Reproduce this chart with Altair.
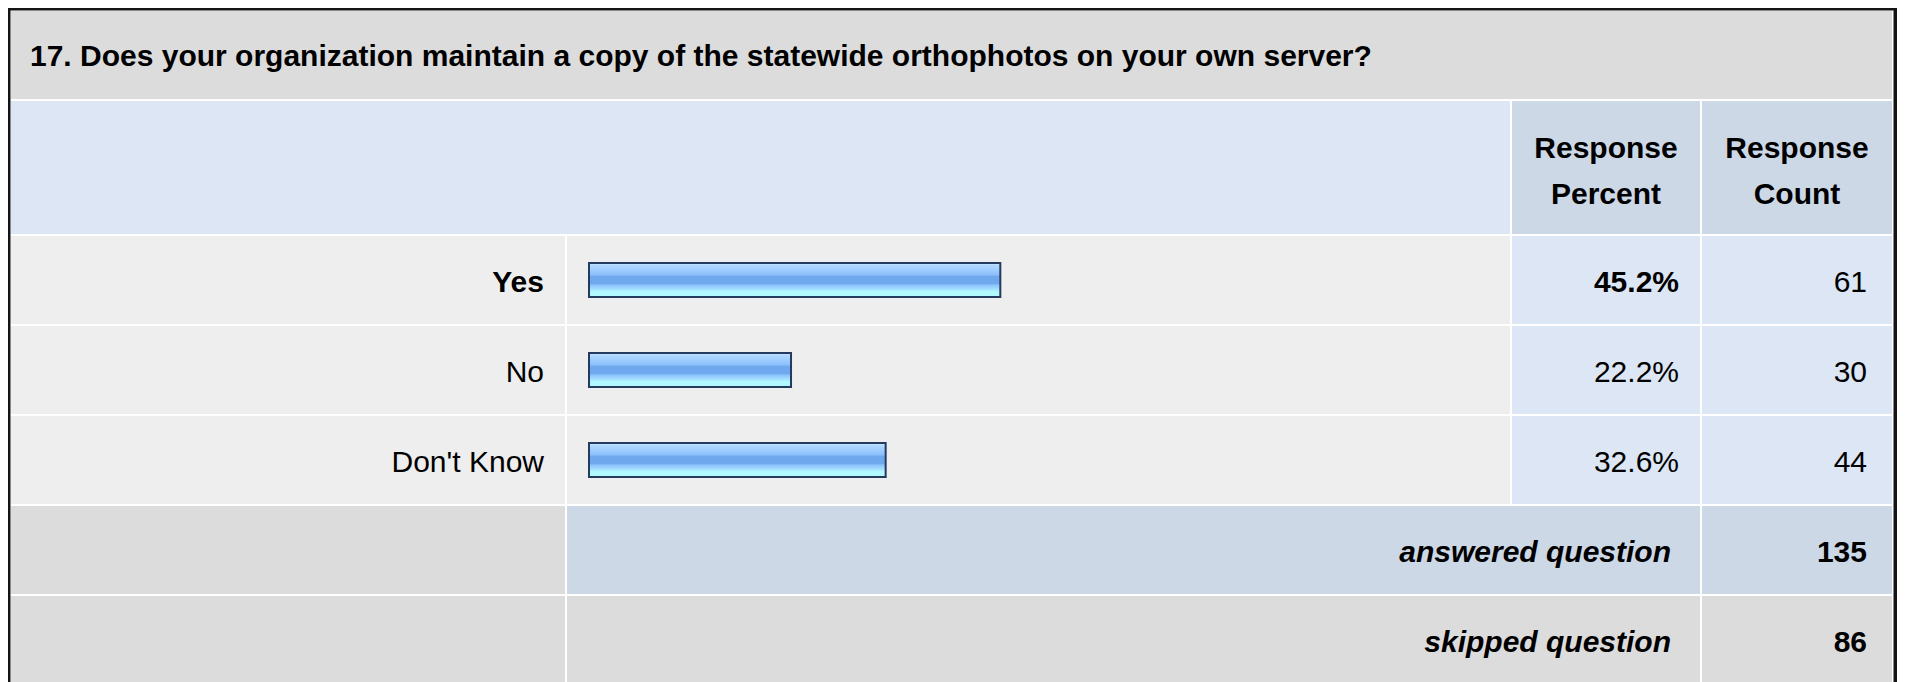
import altair as alt
import pandas as pd

# ---------------- data ----------------
question = "17. Does your organization maintain a copy of the statewide orthophotos on your own server?"
answers = ["Yes", "No", "Don't Know"]
percents = [45.2, 22.2, 32.6]
counts = [61, 30, 44]
header_percent = ["Response", "Percent"]
header_count = ["Response", "Count"]
summary_labels = ["answered question", "skipped question"]
summary_values = [135, 86]

# ---------------- layout (page pixels; page margin is 8px) ----------------
M = 8
W, H = 1907 - 2 * M, 682 - M
FONT = "Liberation Sans"
FS = 30

def p(v):
    return v - M

COL_LABEL = (11, 565)
COL_BAR = (567, 1510)
COL_PCT = (1512, 1700)
COL_CNT = (1702, 1892)
ROW_TITLE = (11, 99)
ROW_HEAD = (101, 234)
ROWS = [(236, 324), (326, 414), (416, 504)]
ROW_ANS = (506, 594)
ROW_SKIP = (596, 700)

GRAY = "#dcdcdc"
LIGHT = "#eeeeee"
BLUE = "#dce6f4"
BLUEGRAY = "#ccd8e6"

cells = []
def cell(cx, ry, fill):
    cells.append({"x": p(cx[0]), "x2": p(cx[1]), "y": p(ry[0]), "y2": p(ry[1]), "fill": fill})

cell((11, 1892), ROW_TITLE, GRAY)
cell((11, 1510), ROW_HEAD, BLUE)
cell(COL_PCT, ROW_HEAD, BLUEGRAY)
cell(COL_CNT, ROW_HEAD, BLUEGRAY)
for r in ROWS:
    cell(COL_LABEL, r, LIGHT)
    cell(COL_BAR, r, LIGHT)
    cell(COL_PCT, r, BLUE)
    cell(COL_CNT, r, BLUE)
cell(COL_LABEL, ROW_ANS, GRAY)
cell((567, 1700), ROW_ANS, BLUEGRAY)
cell(COL_CNT, ROW_ANS, BLUEGRAY)
cell(COL_LABEL, ROW_SKIP, GRAY)
cell((567, 1700), ROW_SKIP, GRAY)
cell(COL_CNT, ROW_SKIP, GRAY)
# outer border
cell((8, 10.5), (8, 700), "#141414")
cell((8, 1897), (8, 10.5), "#141414")
cell((1893.5, 1897), (8, 700), "#141414")
cells_df = pd.DataFrame(cells)

bg = alt.Chart(cells_df).mark_rect().encode(
    x=alt.X("x:Q", scale=None, axis=None),
    x2="x2:Q",
    y=alt.Y("y:Q", scale=None, axis=None),
    y2="y2:Q",
    color=alt.Color("fill:N", scale=None, legend=None),
)

df = pd.DataFrame({"answer": answers, "pct": percents, "count": counts})

row_centers = [(a + b) / 2 for a, b in ROWS]
yscale = alt.Scale(type="point", domain=answers,
                   range=[p(row_centers[0]), p(row_centers[-1])], padding=0)
xscale = alt.Scale(domain=[0, 100], range=[p(589), p(589) + 910])

gradient = {
    "gradient": "linear", "x1": 0, "y1": 0, "x2": 0, "y2": 1,
    "stops": [
        {"offset": 0.0, "color": "#d4ebff"},
        {"offset": 0.07, "color": "#b0d8ff"},
        {"offset": 0.2, "color": "#9fcdff"},
        {"offset": 0.34, "color": "#8cc0fa"},
        {"offset": 0.40, "color": "#70a8ee"},
        {"offset": 0.60, "color": "#70a8ee"},
        {"offset": 0.66, "color": "#8ec5fb"},
        {"offset": 0.76, "color": "#a2dcff"},
        {"offset": 0.84, "color": "#b2f8ff"},
        {"offset": 1.0, "color": "#b2f8ff"},
    ],
}

bars = alt.Chart(df).mark_bar(size=34, fill=gradient, stroke="#243a5e", strokeWidth=2).encode(
    x=alt.X("pct:Q", scale=xscale, axis=None),
    y=alt.Y("answer:N", scale=yscale, axis=None),
)

base_txt = dict(font=FONT, fontSize=FS, color="#000000", baseline="alphabetic", dy=12)

rows_base = alt.Chart(df).transform_joinaggregate(maxp="max(pct)").transform_calculate(
    pctlabel="format(datum.pct, '.1f') + '%'"
)
bold_rows = rows_base.transform_filter("datum.pct == datum.maxp")
norm_rows = rows_base.transform_filter("datum.pct != datum.maxp")

lab_b = bold_rows.mark_text(align="right", fontWeight="bold", **base_txt).encode(
    x=alt.value(p(544)), y=alt.Y("answer:N", scale=yscale, axis=None), text="answer:N")
lab_n = norm_rows.mark_text(align="right", **base_txt).encode(
    x=alt.value(p(544)), y=alt.Y("answer:N", scale=yscale, axis=None), text="answer:N")
pct_b = bold_rows.mark_text(align="right", fontWeight="bold", **base_txt).encode(
    x=alt.value(p(1679)), y=alt.Y("answer:N", scale=yscale, axis=None), text="pctlabel:N")
pct_n = norm_rows.mark_text(align="right", **base_txt).encode(
    x=alt.value(p(1679)), y=alt.Y("answer:N", scale=yscale, axis=None), text="pctlabel:N")
cnt = alt.Chart(df).mark_text(align="right", **base_txt).encode(
    x=alt.value(p(1867)), y=alt.Y("answer:N", scale=yscale, axis=None), text="count:Q")

title = alt.Chart(pd.DataFrame({"t": [question]})).mark_text(
    align="left", font=FONT, fontSize=FS, fontWeight="bold", color="#000000", baseline="alphabetic"
).encode(x=alt.value(p(30)), y=alt.value(p(66)), text="t:N")

head_df = pd.DataFrame({
    "text": header_percent + header_count,
    "col": ["pct", "pct", "cnt", "cnt"],
    "line": [0, 1, 0, 1],
})
head_x = {"pct": p((COL_PCT[0] + COL_PCT[1]) / 2), "cnt": p((COL_CNT[0] + COL_CNT[1]) / 2)}
head_df["px"] = head_df["col"].map(head_x)
head_df["py"] = [p(158) if l == 0 else p(204) for l in head_df["line"]]
heads = alt.Chart(head_df).mark_text(
    align="center", font=FONT, fontSize=FS, fontWeight="bold", color="#000000", baseline="alphabetic"
).encode(
    x=alt.X("px:Q", scale=None, axis=None),
    y=alt.Y("py:Q", scale=None, axis=None),
    text="text:N",
)

sum_df = pd.DataFrame({"label": summary_labels, "value": summary_values})
sscale = alt.Scale(type="point", domain=summary_labels,
                   range=[p((ROW_ANS[0] + ROW_ANS[1]) / 2), p((ROW_ANS[0] + ROW_ANS[1]) / 2 + 90)], padding=0)
sum_lab = alt.Chart(sum_df).mark_text(align="right", fontWeight="bold", fontStyle="italic", **base_txt).encode(
    x=alt.value(p(1671)), y=alt.Y("label:N", scale=sscale, axis=None), text="label:N")
sum_val = alt.Chart(sum_df).mark_text(align="right", fontWeight="bold", **base_txt).encode(
    x=alt.value(p(1867)), y=alt.Y("label:N", scale=sscale, axis=None), text="value:Q")

chart = alt.layer(
    bg, bars, lab_b, lab_n, pct_b, pct_n, cnt, title, heads, sum_lab, sum_val
).resolve_scale(x="independent", y="independent").properties(
    width=W, height=H, autosize=alt.AutoSizeParams(type="none"), padding=0,
    background="#ffffff",
).configure_view(stroke=None)

chart.save("out.html", embed_options={"renderer": "svg", "actions": False})
